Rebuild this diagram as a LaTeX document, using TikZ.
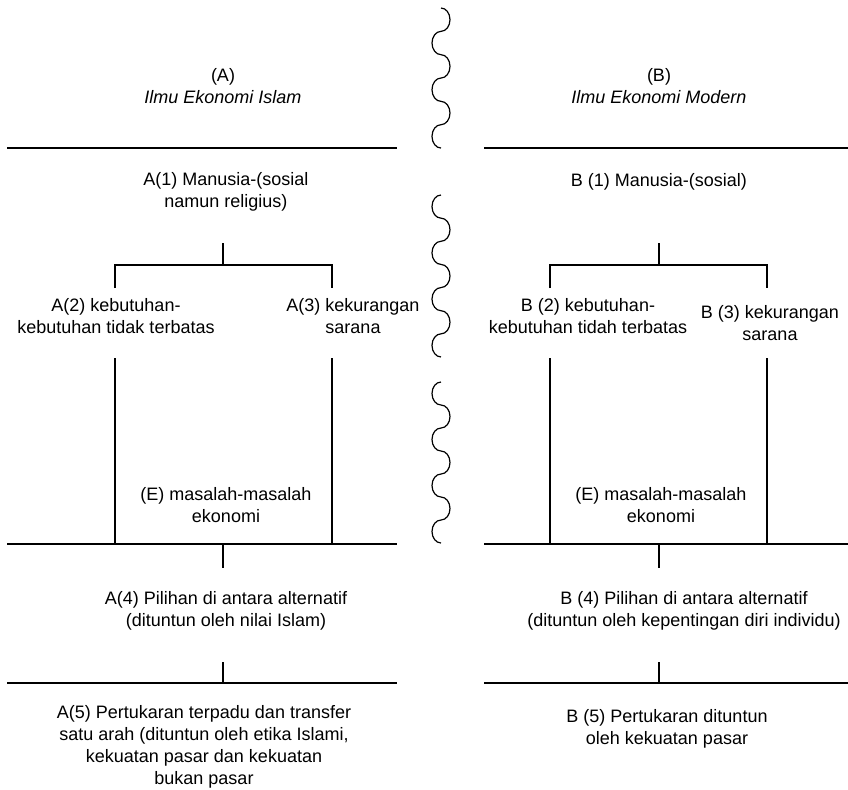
\documentclass[tikz,border=0pt]{standalone}
\usepackage{fontspec}
\setmainfont{Liberation Sans}
\usetikzlibrary{positioning}

\begin{document}
\begin{tikzpicture}[
  x=0.5pt, y=0.5pt,
  txt/.style={align=center,inner sep=0pt,font=\fontsize{9}{11}\selectfont},
  rule/.style={line width=0.6pt},
  wave/.style={line width=0.6pt}
]
  \useasboundingbox (0,0) rectangle (848,-789);

  % headings
  \node[txt] (ha) at (223,-86) {(A)\\\textit{Ilmu Ekonomi Islam}};
  \node[txt] (hb) at (659,-86) {(B)\\\textit{Ilmu Ekonomi Modern}};

  % left column
  \node[txt] (a1) at (226,-192) {A(1) Manusia-(sosial\\namun religius)};
  \node[txt] (a2) at (116,-316) {A(2) kebutuhan-\\kebutuhan tidak terbatas};
  \node[txt] (a3) at (353,-316) {A(3) kekurangan\\sarana};
  \node[txt] (ae) at (226,-505) {(E) masalah-masalah\\ekonomi};
  \node[txt] (a4) at (226,-611) {A(4) Pilihan di antara alternatif\\(dituntun oleh nilai Islam)};
  \node[txt] (a5) at (204,-747) {A(5) Pertukaran terpadu dan transfer\\satu arah (dituntun oleh etika Islami,\\kekuatan pasar dan kekuatan\\bukan pasar};

  % right column
  \node[txt] (b1) at (659,-182) {B (1) Manusia-(sosial)};
  \node[txt] (b2) at (588,-316) {B (2) kebutuhan-\\kebutuhan tidah terbatas};
  \node[txt] (b3) at (770,-323) {B (3) kekurangan\\sarana};
  \node[txt] (be) at (661,-505) {(E) masalah-masalah\\ekonomi};
  \node[txt] (b4) at (684,-611) {B (4) Pilihan di antara alternatif\\(dituntun oleh kepentingan diri individu)};
  \node[txt] (b5) at (667,-729) {B (5) Pertukaran dituntun\\oleh kekuatan pasar};

  % separators
  \coordinate (la1) at (7,-148);   \coordinate (ra1) at (397,-148);
  \coordinate (la2) at (7,-544);   \coordinate (ra2) at (397,-544);
  \coordinate (la3) at (7,-683);   \coordinate (ra3) at (397,-683);
  \coordinate (lb1) at (484,-148); \coordinate (rb1) at (848,-148);
  \coordinate (lb2) at (484,-544); \coordinate (rb2) at (848,-544);
  \coordinate (lb3) at (484,-683); \coordinate (rb3) at (848,-683);
  \draw[rule] (la1) -- (ra1);
  \draw[rule] (la2) -- (ra2);
  \draw[rule] (la3) -- (ra3);
  \draw[rule] (lb1) -- (rb1);
  \draw[rule] (lb2) -- (rb2);
  \draw[rule] (lb3) -- (rb3);

  % tree A
  \coordinate (atop) at (223,-243);
  \coordinate (ajoin) at (223,-265);
  \coordinate (al) at (115,-288);
  \coordinate (ar) at (332,-288);
  \coordinate (all) at (115,-358);
  \coordinate (arr) at (332,-358);
  \draw[rule] (atop) -- (ajoin);
  \draw[rule] (al) |- (ajoin) -| (ar);
  \draw[rule] (all) -- (all |- la2);
  \draw[rule] (arr) -- (arr |- la2);
  \coordinate (amid) at (223,-544);
  \coordinate (alow) at (223,-683);
  \draw[rule] (amid) -- ++(0,-24);
  \draw[rule] (alow) -- ++(0,21);

  % tree B
  \coordinate (btop) at (659,-243);
  \coordinate (bjoin) at (659,-265);
  \coordinate (bl) at (550,-288);
  \coordinate (br) at (767,-288);
  \coordinate (bll) at (550,-358);
  \coordinate (brr) at (767,-358);
  \draw[rule] (btop) -- (bjoin);
  \draw[rule] (bl) |- (bjoin) -| (br);
  \draw[rule] (bll) -- (bll |- lb2);
  \draw[rule] (brr) -- (brr |- lb2);
  \coordinate (bmid) at (659,-544);
  \coordinate (blow) at (659,-683);
  \draw[rule] (bmid) -- ++(0,-24);
  \draw[rule] (blow) -- ++(0,21);

  % wavy break
  \coordinate (w1) at (441,-8);
  \coordinate (w2) at (441,-195);
  \coordinate (w3) at (441,-382);
  \draw[wave] (w1) arc(90:-90:9 and 11.67) arc(90:270:9 and 11.67)
    arc(90:-90:9 and 11.67) arc(90:270:9 and 11.67)
    arc(90:-90:9 and 11.67) arc(90:270:9 and 11.67);
  \draw[wave] (w2) arc(90:270:9 and 11.57) arc(90:-90:9 and 11.57)
    arc(90:270:9 and 11.57) arc(90:-90:9 and 11.57)
    arc(90:270:9 and 11.57) arc(90:-90:9 and 11.57)
    arc(90:270:9 and 11.57);
  \draw[wave] (w3) arc(90:270:9 and 11.5) arc(90:-90:9 and 11.5)
    arc(90:270:9 and 11.5) arc(90:-90:9 and 11.5)
    arc(90:270:9 and 11.5) arc(90:-90:9 and 11.5)
    arc(90:270:9 and 11.5);
\end{tikzpicture}
\end{document}
